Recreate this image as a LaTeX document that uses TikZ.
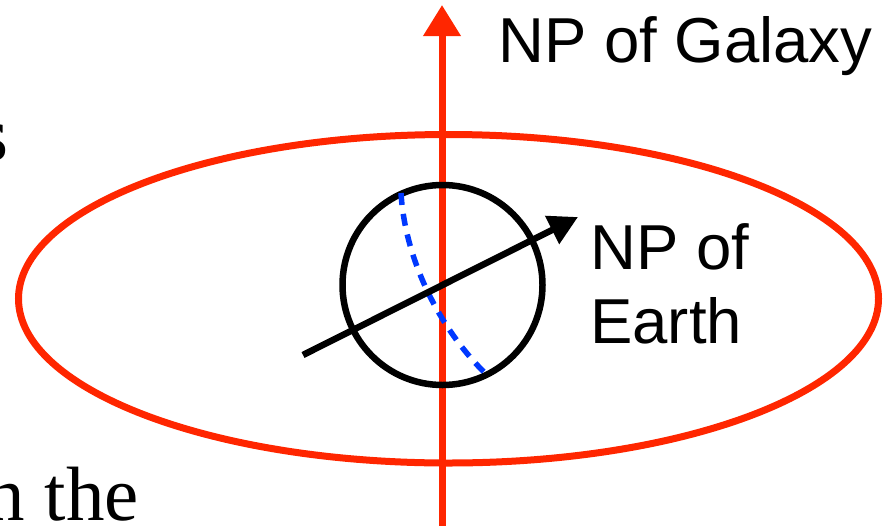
\documentclass[tikz,border=0pt]{standalone}
\usepackage{fontspec}
\setmainfont{Liberation Serif}
\newfontfamily\arialfont{Liberation Sans}
\usetikzlibrary{arrows.meta}
\definecolor{galred}{RGB}{255,38,0}
\definecolor{dashblue}{RGB}{0,56,255}
\tikzset{
  redline/.style={draw=galred,line width=7pt},
  blackline/.style={draw=black,line width=6.5pt},
  sanslabel/.style={inner sep=0pt,anchor=base west,font=\arialfont\fontsize{63.5}{74}\selectfont},
  seriflabel/.style={inner sep=0pt,anchor=base east,font=\fontsize{77}{90}\selectfont},
}
\begin{document}
\begin{tikzpicture}[x=1pt,y=-1pt]
\useasboundingbox (0,0) rectangle (890,525);
% galactic plane
\draw[redline] (448.5,298.75) ellipse [x radius=430, y radius=164.25];
% galactic axis
\coordinate (gbot) at (442,530);
\coordinate (gtop) at (442,5);
\draw[redline,-{Triangle[length=31pt,width=36pt]}] (gbot) -- (gtop);
% earth
\node[draw=black,line width=6.5pt,circle,minimum size=200pt,inner sep=0pt] (earth) at (442.5,285) {};
% dashed curve
\coordinate (dtop) at (401,193);
\coordinate (dbot) at (488,376);
\draw[draw=dashblue,line width=5.5pt,dash pattern=on 12pt off 9pt] (dtop) .. controls (405,260) and (440,330) .. (dbot);
% earth axis
\coordinate (etail) at (303,355);
\coordinate (etip) at (578,217);
\draw[blackline,-{Triangle[length=29pt,width=30pt]}] (etail) -- (etip);
% labels
\node[sanslabel] (galnp) at (498,62) {NP of Galaxy};
\node[sanslabel] (earthnp1) at (590,269) {NP of};
\node[sanslabel] (earthnp2) at (590,343) {Earth};
\node[seriflabel] (lefts) at (9,160) {s};
\node[seriflabel] (leftthe) at (139,520) {n the};
\end{tikzpicture}
\end{document}
